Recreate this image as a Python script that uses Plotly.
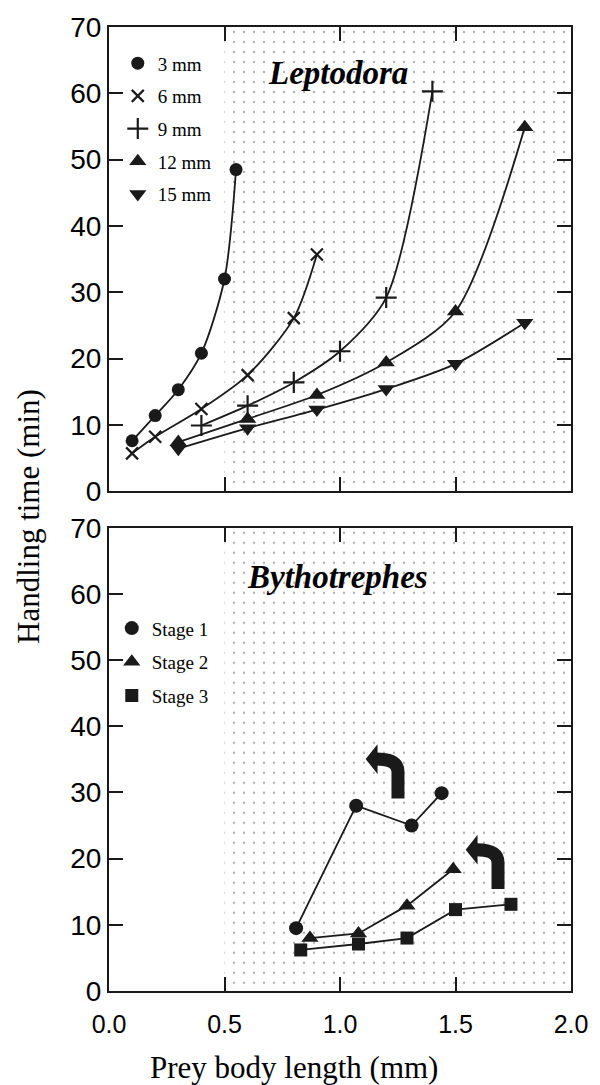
import plotly.graph_objects as go

# ---------------- data ----------------
# Top panel: Leptodora of different body lengths
lep_names = ["3 mm", "6 mm", "9 mm", "12 mm", "15 mm"]
lep_3_x = [0.1, 0.2, 0.3, 0.4, 0.5, 0.55]
lep_3_y = [7.6, 11.4, 15.3, 20.8, 32.0, 48.5]
lep_6_x = [0.1, 0.2, 0.4, 0.6, 0.8, 0.9]
lep_6_y = [5.7, 8.2, 12.4, 17.5, 26.1, 35.7]
lep_9_x = [0.4, 0.6, 0.8, 1.0, 1.2, 1.4]
lep_9_y = [9.9, 12.9, 16.4, 21.1, 29.2, 60.3]
lep_12_x = [0.3, 0.6, 0.9, 1.2, 1.5, 1.8]
lep_12_y = [7.4, 10.9, 14.5, 19.4, 27.1, 54.9]
lep_15_x = [0.3, 0.6, 0.9, 1.2, 1.5, 1.8]
lep_15_y = [6.4, 9.5, 12.3, 15.4, 19.2, 25.4]

# Bottom panel: Bythotrephes stages
byt_names = ["Stage 1", "Stage 2", "Stage 3"]
st1_x = [0.81, 1.07, 1.31, 1.44]
st1_y = [9.5, 28.0, 25.0, 29.9]
st2_x = [0.87, 1.08, 1.29, 1.49]
st2_y = [8.0, 8.7, 12.9, 18.4]
st3_x = [0.83, 1.08, 1.29, 1.50, 1.74]
st3_y = [6.2, 7.1, 8.0, 12.3, 13.1]

# shaded prey-size range (mm) and axis ranges
shade_from = 0.5
x_max = 2.0
y_max = 70
x_ticks = [0.0, 0.5, 1.0, 1.5, 2.0]
x_ticktext = ["0.0", "0.5", "1.0", "1.5", "2.0"]
y_ticks = [0, 10, 20, 30, 40, 50, 60, 70]

# turn-back arrows in the bottom panel (base of the stem, data units)
arrow_x = [1.251, 1.684]
arrow_y = [29.1, 15.4]

# ---------------- figure ----------------
SERIF = "Liberation Serif, Times New Roman, serif"
SANS = "Liberation Sans, Arial, sans-serif"
BLACK = "#1a1a1a"

fig = go.Figure()

for xa, ya in (("x", "y"), ("x2", "y2")):
    fig.add_trace(go.Scatter(
        x=[shade_from, x_max, x_max, shade_from, shade_from],
        y=[0, 0, y_max, y_max, 0],
        xaxis=xa, yaxis=ya, mode="none", fill="toself",
        fillcolor="white",
        fillpattern=dict(shape=".", size=10, solidity=0.045,
                         fgcolor="#666666", bgcolor="white"),
        hoverinfo="skip", showlegend=False,
    ))

lep_series = [
    (lep_3_x, lep_3_y, "circle", 13, 0),
    (lep_6_x, lep_6_y, "x-thin", 12, 2.2),
    (lep_9_x, lep_9_y, "cross-thin", 15, 2.2),
    (lep_12_x, lep_12_y, "triangle-up", 15, 0),
    (lep_15_x, lep_15_y, "triangle-down", 15, 0),
]
for name, (xs, ys, sym, sz, lw) in zip(lep_names, lep_series):
    # smooth connecting curve (no legend entry)
    fig.add_trace(go.Scatter(
        x=xs, y=ys, xaxis="x", yaxis="y", mode="lines",
        line=dict(color=BLACK, width=1.8, shape="spline", smoothing=0.8),
        showlegend=False, hoverinfo="skip",
    ))
    fig.add_trace(go.Scatter(
        x=xs, y=ys, name=name, xaxis="x", yaxis="y", mode="markers",
        marker=dict(symbol=sym, size=sz, color=BLACK,
                    line=dict(color=BLACK, width=lw)),
        legend="legend", legendgroup=name,
    ))

byt_series = [
    (st1_x, st1_y, "circle", 14),
    (st2_x, st2_y, "triangle-up", 15),
    (st3_x, st3_y, "square", 13),
]
for name, (xs, ys, sym, sz) in zip(byt_names, byt_series):
    fig.add_trace(go.Scatter(
        x=xs, y=ys, xaxis="x2", yaxis="y2", mode="lines",
        line=dict(color=BLACK, width=1.8),
        showlegend=False, hoverinfo="skip",
    ))
    fig.add_trace(go.Scatter(
        x=xs, y=ys, name=name, xaxis="x2", yaxis="y2", mode="markers",
        marker=dict(symbol=sym, size=sz, color=BLACK, line=dict(width=0)),
        legend="legend2", legendgroup=name,
    ))

# bent arrows
shapes = []
for ax0, ay0 in zip(arrow_x, arrow_y):
    shaft = (f"M {ax0},{ay0} L {ax0},{ay0 + 4.0} "
             f"Q {ax0},{ay0 + 5.95} {ax0 - 0.094},{ay0 + 5.95}")
    shapes.append(dict(type="path", xref="x2", yref="y2", path=shaft,
                       line=dict(color=BLACK, width=13),
                       fillcolor="rgba(0,0,0,0)", layer="above"))
    head = (f"M {ax0 - 0.140},{ay0 + 5.95} L {ax0 - 0.0885},{ay0 + 8.2} "
            f"L {ax0 - 0.0885},{ay0 + 3.7} Z")
    shapes.append(dict(type="path", xref="x2", yref="y2", path=head,
                       line=dict(color=BLACK, width=0),
                       fillcolor=BLACK, layer="above"))

axis_common = dict(
    showline=True, linecolor=BLACK, linewidth=2, mirror="ticks",
    ticks="inside", ticklen=14, tickwidth=2, tickcolor=BLACK,
    showgrid=False, zeroline=False,
)

fig.update_layout(
    width=600, height=1085,
    margin=dict(l=109, r=23, t=19, b=94),
    paper_bgcolor="white", plot_bgcolor="white",
    xaxis=dict(domain=[0, 1], anchor="y", range=[0, x_max],
               tickvals=x_ticks, showticklabels=False, **axis_common),
    yaxis=dict(domain=[0.5185, 1], anchor="x", range=[0, y_max],
               tickvals=y_ticks,
               tickfont=dict(family=SANS, size=28, color="black"),
               **axis_common),
    xaxis2=dict(domain=[0, 1], anchor="y2", range=[0, x_max],
                tickvals=x_ticks, ticktext=x_ticktext,
                tickfont=dict(family=SANS, size=25, color="black"),
                ticklabelstandoff=10,
                **axis_common),
    yaxis2=dict(domain=[0, 0.4805], anchor="x2", range=[0, y_max],
                tickvals=y_ticks,
                tickfont=dict(family=SANS, size=28, color="black"),
                **axis_common),
    legend=dict(x=0.019, y=0.982, xanchor="left", yanchor="top",
                bgcolor="rgba(0,0,0,0)", borderwidth=0,
                font=dict(family=SERIF, size=19, color="black"),
                tracegroupgap=5, itemsizing="trace"),
    legend2=dict(x=0.006, y=0.396, xanchor="left", yanchor="top",
                 bgcolor="rgba(0,0,0,0)", borderwidth=0,
                 font=dict(family=SERIF, size=19, color="black"),
                 tracegroupgap=6, itemsizing="trace"),
    shapes=shapes,
    annotations=[
        dict(text="<b><i>Leptodora</i></b>", x=0.99, y=63, xref="x", yref="y",
             showarrow=False, font=dict(family=SERIF, size=33, color="black")),
        dict(text="<b><i>Bythotrephes</i></b>", x=0.99, y=62.5, xref="x2", yref="y2",
             showarrow=False, font=dict(family=SERIF, size=33, color="black")),
        dict(text="Handling time (min)", x=-0.173, y=0.4918, xref="paper",
             yref="paper", textangle=-90, showarrow=False,
             xanchor="center", yanchor="middle",
             font=dict(family=SERIF, size=31, color="black")),
        dict(text="Prey body length (mm)", x=0.3996, y=-0.0792, xref="paper",
             yref="paper", showarrow=False, xanchor="center", yanchor="middle",
             font=dict(family=SERIF, size=31, color="black")),
    ],
    showlegend=True,
)

fig.write_html("out.html")
